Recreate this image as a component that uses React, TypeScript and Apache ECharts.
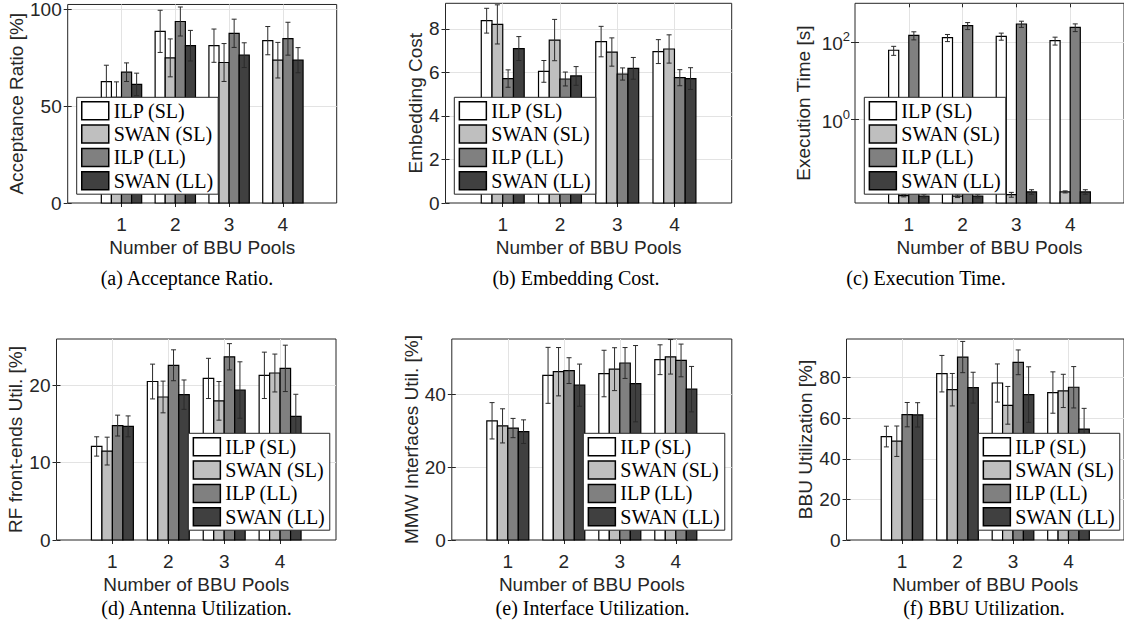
import React, { useEffect, useRef } from "react";
import * as echarts from "echarts";

const categories = [1, 2, 3, 4];
const seriesNames = ["ILP (SL)", "SWAN (SL)", "ILP (LL)", "SWAN (LL)"];
const barColors = ["#ffffff", "#bfbfbf", "#808080", "#404040"];
const xLabel = "Number of BBU Pools";

// (a) Acceptance Ratio [%]
const acceptanceMean = [
  [62.7, 88.7, 81.3, 83.9],
  [54.6, 75.0, 72.6, 73.8],
  [67.6, 93.8, 87.7, 84.9],
  [61.3, 81.3, 76.4, 73.8],
];
const acceptanceErr = [
  [8.5, 10.9, 8.6, 7.3],
  [8.0, 9.8, 9.8, 9.2],
  [4.8, 7.5, 7.3, 8.5],
  [5.8, 7.9, 6.4, 6.5],
];
const acceptanceTicks = [0, 50, 100];

// (b) Embedding Cost
const costMean = [
  [8.38, 6.05, 7.42, 6.96],
  [8.21, 7.49, 6.94, 7.08],
  [5.72, 5.7, 5.93, 5.76],
  [7.1, 5.84, 6.19, 5.72],
];
const costErr = [
  [0.57, 0.5, 0.7, 0.55],
  [0.9, 0.95, 0.65, 0.65],
  [0.4, 0.32, 0.28, 0.37],
  [0.55, 0.43, 0.5, 0.5],
];
const costTicks = [0, 2, 4, 6, 8];

// (c) Execution Time [s]
const timeMean = [
  [61, 129, 140, 108],
  [0.0106, 0.0102, 0.0112, 0.0132],
  [148, 263, 291, 239],
  [0.0102, 0.0102, 0.0132, 0.0132],
];
const timeErr = [
  [16, 27, 29, 25],
  [0.0008, 0.0008, 0.0016, 0.0008],
  [35, 54, 53, 54],
  [0.001, 0.001, 0.0018, 0.0018],
];
const timeTicks = [1, 100];

// (d) RF front-ends Util. [%]
const antennaMean = [
  [12.1, 20.5, 20.9, 21.3],
  [11.5, 18.5, 18.0, 21.6],
  [14.8, 22.6, 23.7, 22.2],
  [14.7, 18.8, 19.4, 16.0],
];
const antennaErr = [
  [1.25, 2.25, 2.6, 3.0],
  [1.8, 2.05, 2.5, 2.45],
  [1.35, 2.0, 1.7, 3.0],
  [1.35, 1.9, 3.65, 2.85],
];
const antennaTicks = [0, 10, 20];

// (e) MMW Interfaces Util. [%]
const interfaceMean = [
  [32.8, 45.3, 45.8, 49.6],
  [31.4, 46.3, 47.0, 50.4],
  [30.8, 46.6, 48.7, 49.4],
  [29.8, 42.6, 43.0, 41.5],
];
const interfaceErr = [
  [5.0, 7.7, 6.4, 4.1],
  [4.7, 6.65, 5.9, 4.75],
  [2.65, 3.55, 4.25, 4.5],
  [3.25, 5.8, 10.5, 6.25],
];
const interfaceTicks = [0, 20, 40];

// (f) BBU Utilization [%]
const bbuMean = [
  [51.0, 82.0, 77.4, 72.7],
  [48.7, 74.1, 66.4, 73.5],
  [61.8, 90.2, 87.6, 75.3],
  [61.7, 75.1, 71.7, 54.7],
];
const bbuErr = [
  [5.1, 9.0, 9.4, 10.2],
  [7.5, 8.0, 9.3, 8.2],
  [6.0, 7.7, 6.1, 10.2],
  [6.0, 7.6, 13.7, 10.2],
];
const bbuTicks = [0, 20, 40, 60, 80];

const BOX = "#262626";
const GRIDC = "#e3e3e3";
const ERRC = "#2a2a2a";
const BAR_W = 0.1875;
const CAP = 2.5;
const SANS = "Liberation Sans";
const SERIF = "Liberation Serif";

const panels = [
  {
    mean: acceptanceMean, err: acceptanceErr, ticks: acceptanceTicks, log: false,
    yMin: 0, yMax: 102.6, yName: "Acceptance Ratio [%]", caption: "(a) Acceptance Ratio.",
    grid: { left: 67.7, top: 3.3, width: 269, height: 199.7 }, yNameGap: 39,
    legend: { left: 76.7, top: 97.3 }, cap: [187, 278],
  },
  {
    mean: costMean, err: costErr, ticks: costTicks, log: false,
    yMin: 0, yMax: 9.18, yName: "Embedding Cost", caption: "(b) Embedding Cost.",
    grid: { left: 445.5, top: 3.3, width: 286.2, height: 199.7 }, yNameGap: 21,
    legend: { left: 454.3, top: 97.3 }, cap: [576, 278],
  },
  {
    mean: timeMean, err: timeErr, ticks: timeTicks, log: true,
    yMin: 0.0068, yMax: 1000, yName: "Execution Time [s]", caption: "(c) Execution Time.",
    grid: { left: 855, top: 3.3, width: 270, height: 199.7 }, yNameGap: 42,
    legend: { left: 864.3, top: 97.3 }, cap: [926, 278],
  },
  {
    mean: antennaMean, err: antennaErr, ticks: antennaTicks, log: false,
    yMin: 0, yMax: 26, yName: "RF front-ends Util. [%]", caption: "(d) Antenna Utilization.",
    grid: { left: 56.5, top: 339, width: 279.5, height: 201 }, yNameGap: 28.5,
    legend: { left: 188.3, top: 433.3 }, cap: [196.5, 608],
  },
  {
    mean: interfaceMean, err: interfaceErr, ticks: interfaceTicks, log: false,
    yMin: 0, yMax: 55.3, yName: "MMW Interfaces Util. [%]", caption: "(e) Interface Utilization.",
    grid: { left: 451.8, top: 339, width: 280, height: 201 }, yNameGap: 29,
    legend: { left: 583.3, top: 433.3 }, cap: [592.5, 608],
  },
  {
    mean: bbuMean, err: bbuErr, ticks: bbuTicks, log: false,
    yMin: 0, yMax: 99.1, yName: "BBU Utilization [%]", caption: "(f) BBU Utilization.",
    grid: { left: 846.5, top: 339, width: 279, height: 201 }, yNameGap: 30.5,
    legend: { left: 978.3, top: 433.3 }, cap: [984, 608],
  },
];

const sansText = { fontFamily: SANS, fontSize: 19, color: BOX };

function makeRender(s: number) {
  return (params: any, api: any) => {
    const cx = api.value(0) + (s - 1.5) * BAR_W;
    const v = api.value(1);
    const e = api.value(2);
    const l = api.coord([cx - BAR_W / 2, v]);
    const r = api.coord([cx + BAR_W / 2, v]);
    const hi = api.coord([cx, v + e]);
    const lo = api.coord([cx, v - e]);
    const cs = params.coordSys;
    const bottom = cs.y + cs.height;
    const mid = (l[0] + r[0]) / 2;
    const ls = { stroke: ERRC, lineWidth: 1 };
    return {
      type: "group",
      children: [
        {
          type: "rect",
          shape: { x: l[0], y: l[1], width: r[0] - l[0], height: bottom - l[1] },
          style: { fill: barColors[s], stroke: "#000", lineWidth: 1.2 },
        },
        { type: "line", shape: { x1: mid, y1: hi[1], x2: mid, y2: lo[1] }, style: ls },
        { type: "line", shape: { x1: mid - CAP, y1: hi[1], x2: mid + CAP, y2: hi[1] }, style: ls },
        { type: "line", shape: { x1: mid - CAP, y1: lo[1], x2: mid + CAP, y2: lo[1] }, style: ls },
      ],
    };
  };
}

function buildOption() {
  const grid: any[] = [];
  const xAxis: any[] = [];
  const yAxis: any[] = [];
  const legend: any[] = [];
  const series: any[] = [];
  const graphic: any[] = [];

  panels.forEach((p, pi) => {
    grid.push({ ...p.grid, show: true, borderColor: BOX, borderWidth: 1, backgroundColor: "#fff" });
    const tickStyle = { show: true, inside: true, length: 4, lineStyle: { color: BOX, width: 1 } };
    xAxis.push({
      type: "value", gridIndex: pi, min: 0, max: 5, position: "bottom",
      name: xLabel, nameLocation: "middle", nameGap: 35, nameTextStyle: sansText,
      axisLine: { show: false },
      axisTick: { ...tickStyle, customValues: categories },
      axisLabel: { customValues: categories, margin: 12, ...sansText },
      splitLine: { show: true, lineStyle: { color: GRIDC, width: 1 } },
    });
    xAxis.push({
      type: "value", gridIndex: pi, min: 0, max: 5, position: "top",
      axisLine: { show: false },
      axisTick: { ...tickStyle, customValues: categories },
      axisLabel: { show: false },
      splitLine: { show: false },
    });
    const yBase: any = {
      type: p.log ? "log" : "value", gridIndex: pi, min: p.yMin, max: p.yMax,
      axisLine: { show: false },
    };
    if (p.log) yBase.logBase = 10;
    yAxis.push({
      ...yBase, position: "left",
      name: p.yName, nameLocation: "middle", nameGap: p.yNameGap, nameRotate: 90,
      nameTextStyle: sansText,
      axisTick: { ...tickStyle, customValues: p.ticks },
      axisLabel: p.log
        ? {
            customValues: p.ticks, margin: 5, ...sansText,
            formatter: (v: number) => "{b|10}{s|" + Math.round(Math.log10(v)) + "}",
            rich: {
              b: { fontFamily: SANS, fontSize: 19, color: BOX, verticalAlign: "bottom" },
              s: { fontFamily: SANS, fontSize: 13, color: BOX, verticalAlign: "top", padding: [0, 0, 10, 0] },
            },
          }
        : { customValues: p.ticks, margin: 6, ...sansText },
      splitLine: { show: true, showMinLine: p.log, lineStyle: { color: GRIDC, width: 1 } },
    });
    yAxis.push({
      ...yBase, position: "right",
      axisTick: { ...tickStyle, customValues: p.ticks },
      axisLabel: { show: false },
      splitLine: { show: false },
    });
    legend.push({
      left: p.legend.left, top: p.legend.top, orient: "vertical",
      itemWidth: 27, itemHeight: 18, itemGap: 3.3,
      padding: [3.5, 5, 3.5, 4.3],
      backgroundColor: "#fff", borderColor: BOX, borderWidth: 1,
      selectedMode: false,
      textStyle: { fontFamily: SERIF, fontSize: 20, color: "#000" },
      data: seriesNames.map((n, i) => ({
        name: n, icon: "rect",
        itemStyle: { color: barColors[i], borderColor: "#000", borderWidth: 1.5 },
      })),
    });
    seriesNames.forEach((name, s) => {
      series.push({
        type: "custom", name, xAxisIndex: pi * 2, yAxisIndex: pi * 2, z: 2,
        itemStyle: { color: barColors[s], borderColor: "#000", borderWidth: 1 },
        renderItem: makeRender(s),
        encode: { x: 0, y: 1 },
        data: categories.map((c, i) => [c, p.mean[s][i], p.err[s][i]]),
      });
    });
    graphic.push({
      type: "text", x: p.cap[0], y: p.cap[1],
      style: {
        text: p.caption, fontFamily: SERIF, fontSize: 20, fill: "#000",
        align: "center", verticalAlign: "middle",
      },
    });
  });

  return { animation: false, backgroundColor: "#fff", grid, xAxis, yAxis, legend, series, graphic };
}

export default function App() {
  const ref = useRef<HTMLDivElement>(null);
  useEffect(() => {
    document.body.style.margin = "0";
    if (!ref.current) return;
    const chart = echarts.init(ref.current, undefined, { renderer: "svg" });
    chart.setOption(buildOption() as any);
    return () => chart.dispose();
  }, []);
  return <div ref={ref} style={{ width: 1124, height: 632, overflow: "hidden" }} />;
}
